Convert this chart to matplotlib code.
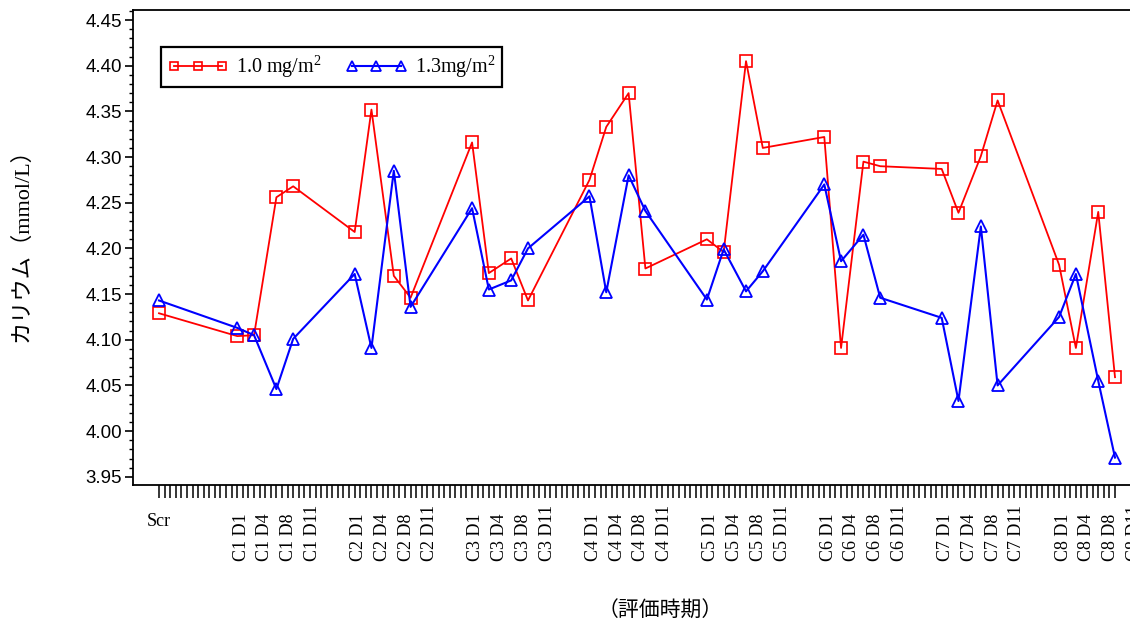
import matplotlib
matplotlib.use('Agg')
import matplotlib.pyplot as plt
import matplotlib.transforms as mtransforms
from matplotlib.ticker import MultipleLocator, AutoMinorLocator, FormatStrFormatter

plt.rcParams['font.family'] = ['Liberation Serif', 'Noto Sans CJK JP']
plt.rcParams['mathtext.fontset'] = 'custom'
plt.rcParams['mathtext.rm'] = 'Liberation Serif'
plt.rcParams['mathtext.it'] = 'Liberation Serif:italic'

# visit schedule: screening, then days 1/4/8/11 of each 21-day cycle
scr_day = -13
cycle_len = 21
cycles = [1, 2, 3, 4, 5, 6, 7, 8]
cycle_days = [1, 4, 8, 11]

# potassium (mmol/L), screening first then C1 D1 ... C8 D11
k_10 = [4.129,
        4.104, 4.105, 4.256, 4.268,
        4.218, 4.352, 4.170, 4.146,
        4.316, 4.173, 4.189, 4.143,
        4.275, 4.333, 4.370, 4.178,
        4.210, 4.196, 4.405, 4.310,
        4.322, 4.091, 4.295, 4.290,
        4.287, 4.239, 4.301, 4.362,
        4.182, 4.091, 4.240, 4.059]
k_13 = [4.143,
        4.113, 4.105, 4.046, 4.101,
        4.172, 4.091, 4.285, 4.136,
        4.244, 4.155, 4.165, 4.200,
        4.257, 4.152, 4.280, 4.241,
        4.144, 4.199, 4.153, 4.175,
        4.270, 4.186, 4.215, 4.146,
        4.124, 4.033, 4.224, 4.050,
        4.125, 4.172, 4.055, 3.971]

day = [scr_day] + [(c - 1) * cycle_len + d for c in cycles for d in cycle_days]

fig = plt.figure(figsize=(11.3, 6.25), dpi=100)
ax = fig.add_axes([133 / 1130, 140 / 625, 998 / 1130, 475 / 625])

ax.plot(day, k_10, color='#ff0000', lw=1.3, marker='s', ms=8, mfc='none',
        mec='#ff0000', mew=1.2, clip_on=False, label='1.0 mg/m$^2$', zorder=3)
ax.plot(day, k_13, color='#0000ff', lw=1.5, marker='^', ms=8.5, mfc='none',
        mec='#0000ff', mew=1.3, clip_on=False, label='1.3mg/m$^2$', zorder=4)

ax.set_xlim(-17.65, 160.86)
ax.set_ylim(3.941, 4.461)

ax.yaxis.set_major_locator(MultipleLocator(0.05))
ax.yaxis.set_minor_locator(AutoMinorLocator(5))
ax.yaxis.set_major_formatter(FormatStrFormatter('%.2f'))
ax.tick_params(axis='y', which='major', direction='out', length=6, width=1.2,
               labelsize=13.5, pad=2)
ax.tick_params(axis='y', which='minor', direction='out', length=3, width=1)
for lab in ax.get_yticklabels():
    lab.set_family('Liberation Sans')

# a tick for every study day, labels drawn separately
ax.set_xticks(range(scr_day, day[-1] + 1))
ax.set_xticklabels([])
ax.tick_params(axis='x', which='major', direction='out', length=9, width=1.1)

for s in ax.spines.values():
    s.set_linewidth(1.3)

trans = mtransforms.blended_transform_factory(ax.transData, ax.transAxes)
ax.text(scr_day, -0.076, 'Scr', transform=trans, ha='center', va='center',
        fontsize=13)
for c in cycles:
    for k, d in enumerate(cycle_days):
        xpos = (c - 1) * cycle_len + 1.7 + k * 4.25
        ax.text(xpos, -0.16, f'C{c} D{d}', transform=trans, rotation=90,
                ha='center', va='bottom', fontsize=13, clip_on=False)

leg = ax.legend(loc='upper left', bbox_to_anchor=(0.028, 0.922), ncol=2,
                numpoints=3, markerscale=0.8, handlelength=3.0,
                handletextpad=0.4, columnspacing=1.2, borderaxespad=0,
                borderpad=0.35, fontsize=14.5, fancybox=False, framealpha=1)
leg.get_frame().set_edgecolor('black')
leg.get_frame().set_linewidth(1.6)

fig.text(0.0195, 0.616, 'カリウム（mmol/L）', rotation=90, ha='center',
         va='center', fontsize=16)
fig.text(0.584, 0.021, '（評価時期）', ha='center', va='center', fontsize=15)

fig.savefig('out.png', dpi=100)
